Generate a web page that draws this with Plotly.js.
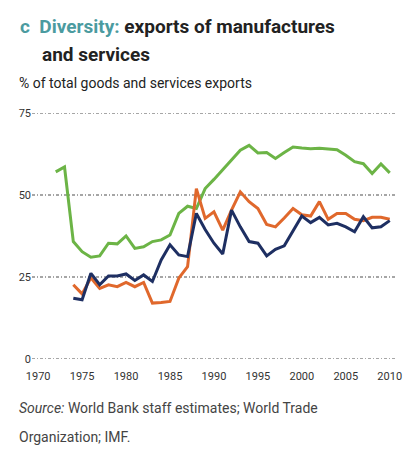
<!DOCTYPE html>
<html>
<head>
<meta charset="utf-8">
<script src="https://cdn.plot.ly/plotly-3.0.1.min.js"></script>
<style>html,body{margin:0;padding:0;background:#fff;}#chart{width:413px;height:455px;}</style>
</head>
<body>
<div id="chart"></div>
<script>
const greenYears = [1972,1973,1974,1975,1976,1977,1978,1979,1980,1981,1982,1983,1984,1985,1986,1987,1988,1989,1990,1991,1992,1993,1994,1995,1996,1997,1998,1999,2000,2001,2002,2003,2004,2005,2006,2007,2008,2009,2010];
const greenValues = [57.1,58.6,35.8,32.7,31.0,31.4,35.3,35.1,37.5,33.7,34.2,35.8,36.3,37.8,44.4,46.6,45.9,52.0,54.8,57.8,60.8,63.7,65.2,62.9,63.0,61.2,63.0,64.7,64.4,64.2,64.3,64.2,63.9,62.2,60.2,59.6,56.6,59.5,56.8];

const otherYears = [1974,1975,1976,1977,1978,1979,1980,1981,1982,1983,1984,1985,1986,1987,1988,1989,1990,1991,1992,1993,1994,1995,1996,1997,1998,1999,2000,2001,2002,2003,2004,2005,2006,2007,2008,2009,2010];
const orangeValues = [22.6,19.8,24.7,21.5,22.6,22.0,23.3,22.0,23.3,17.0,17.2,17.5,24.6,28.1,52.0,42.9,44.9,39.3,45.4,51.0,48.0,45.9,41.0,40.3,43.0,45.9,44.0,43.6,48.0,42.6,44.4,44.4,42.6,42.2,43.2,43.2,42.6];
const navyValues = [18.5,18.0,26.1,22.6,25.3,25.3,25.9,23.9,25.6,23.6,30.2,34.8,31.7,31.2,44.4,39.5,35.3,32.0,45.4,40.3,35.8,35.3,31.4,33.4,34.5,39.0,43.6,41.6,43.2,40.9,41.4,40.3,38.8,43.4,40.0,40.3,42.2];

const xTicks = [1970,1975,1980,1985,1990,1995,2000,2005,2010];
const yTicks = [0,25,50,75];

const condensed = '"Liberation Sans Narrow", "Roboto", "DejaVu Sans Condensed", sans-serif';

const traces = [
  {x: greenYears, y: greenValues, type: 'scatter', mode: 'lines', line: {color: '#6cb446', width: 3}, hoverinfo: 'skip'},
  {x: otherYears, y: orangeValues, type: 'scatter', mode: 'lines', line: {color: '#e0682c', width: 3}, hoverinfo: 'skip'},
  {x: otherYears, y: navyValues, type: 'scatter', mode: 'lines', line: {color: '#1e2f62', width: 3}, hoverinfo: 'skip'}
];

const layout = {
  width: 413, height: 455,
  margin: {l: 32, r: 18, t: 112, b: 95},
  paper_bgcolor: '#ffffff', plot_bgcolor: '#ffffff',
  showlegend: false,
  xaxis: {
    range: [1969.3, 2010.6], tickvals: xTicks, ticktext: xTicks.map(String),
    showgrid: false, zeroline: false, showline: false, ticks: '',
    ticklabelstandoff: 8,
    tickfont: {family: condensed, size: 11, color: '#333'}
  },
  yaxis: {
    range: [-0.4, 75.4], tickvals: yTicks, ticktext: yTicks.map(String),
    showgrid: true, gridcolor: '#a6a6a6', gridwidth: 1.5, griddash: '3px,2px,1px,2px',
    zeroline: false, showline: false, ticks: '',
    tickfont: {family: condensed, size: 11, color: '#333'}
  },
  annotations: [
    {xref: 'paper', yref: 'paper', x: -0.039, y: 1.344, xanchor: 'left', yanchor: 'middle', showarrow: false,
     text: '<b><span style="color:#4b9ba0">c  Diversity:</span></b><b> exports of manufactures</b>',
     font: {family: condensed, size: 19, color: '#222'}},
    {xref: 'paper', yref: 'paper', x: 0.022, y: 1.231, xanchor: 'left', yanchor: 'middle', showarrow: false,
     text: '<b>and services</b>', font: {family: condensed, size: 19, color: '#222'}},
    {xref: 'paper', yref: 'paper', x: -0.041, y: 1.118, xanchor: 'left', yanchor: 'middle', showarrow: false,
     text: '% of total goods and services exports', font: {family: condensed, size: 14, color: '#222'}},
    {xref: 'paper', yref: 'paper', x: -0.041, y: -0.192, xanchor: 'left', yanchor: 'middle', showarrow: false,
     text: '<i>Source:</i> World Bank staff estimates; World Trade', font: {family: condensed, size: 14, color: '#444'}},
    {xref: 'paper', yref: 'paper', x: -0.041, y: -0.309, xanchor: 'left', yanchor: 'middle', showarrow: false,
     text: 'Organization; IMF.', font: {family: condensed, size: 14, color: '#444'}}
  ]
};

Plotly.newPlot('chart', traces, layout, {displayModeBar: false, staticPlot: true});
</script>
</body>
</html>
